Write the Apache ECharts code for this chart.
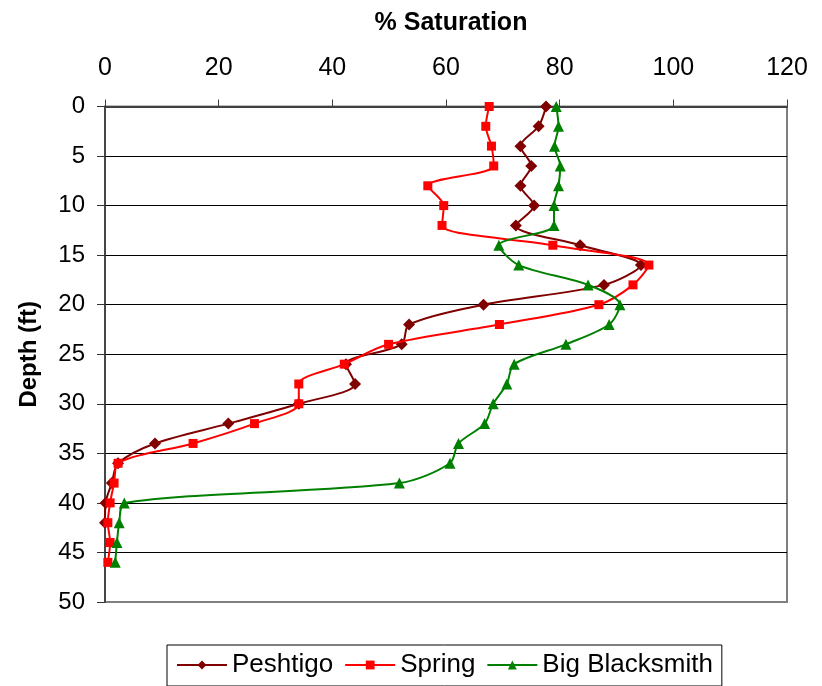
<!DOCTYPE html>
<html>
<head>
<meta charset="utf-8">
<script src="https://cdn.jsdelivr.net/npm/echarts@6/dist/echarts.min.js"></script>
<style>
html,body{margin:0;padding:0;background:#fff;}
#chart{width:822px;height:686px;}
</style>
</head>
<body>
<div id="chart"></div>
<script>
// Depths (ft)
const peshtigoDepth = [0,2,4,6,8,10,12,14,16,18,20,22,24,26,28,30,32,34,36,38,40,42];
const peshtigoSat   = [77.6,76.3,73.1,75.0,73.1,75.5,72.3,83.6,94.3,87.8,66.6,53.5,52.2,42.4,44.0,34.1,21.7,8.8,2.3,1.2,0.1,0];

const springDepth = [0,2,4,6,8,10,12,14,16,18,20,22,24,26,28,30,32,34,36,38,40,42,44,46];
const springSat   = [67.6,67.0,68.0,68.4,56.8,59.6,59.3,78.8,95.7,92.9,86.9,69.4,49.9,42.1,34.1,34.1,26.3,15.5,2.3,1.6,0.9,0.5,0.9,0.5];

const blacksmithDepth = [0,2,4,6,8,10,12,14,16,18,20,22,24,26,28,30,32,34,36,38,40,42,44,46];
const blacksmithSat   = [79.4,79.8,79.1,80.1,79.8,79.0,79.0,69.3,72.8,85.0,90.6,88.7,81.1,72.0,70.7,68.3,66.8,62.2,60.7,51.8,3.4,2.5,2.1,1.8];

const xTicks = [0,20,40,60,80,100,120];
const yTicks = [0,5,10,15,20,25,30,35,40,45,50];

function pairs(xs, ys){ return xs.map((x,i)=>[x, ys[i]]); }

const FONT = "'Liberation Sans', Arial, sans-serif";
const chart = echarts.init(document.getElementById('chart'), null, {renderer:'canvas'});

const splitColors = yTicks.map((t,i)=> i===0 ? '#404040' : (i===yTicks.length-1 ? '#808080' : '#000'));

chart.setOption({
  animation:false,
  backgroundColor:'#fff',
  title:{
    text:'% Saturation',
    left:446, top:6, textAlign:'center',
    textStyle:{fontFamily:FONT, fontSize:25, fontWeight:'bold', color:'#000'}
  },
  grid:{
    left:105, top:106.5, right:35, bottom:84,
    show:true, borderColor:'#808080', borderWidth:2, backgroundColor:'transparent'
  },
  legend:{
    left:167, top:645,
    padding:[7,9,8,9],
    borderColor:'#000', borderWidth:1,
    itemWidth:50, itemHeight:11, itemGap:11,
    textStyle:{fontFamily:FONT, fontSize:26, color:'#000'},
    data:['Peshtigo','Spring','Big Blacksmith']
  },
  xAxis:{
    type:'value', position:'top', min:0, max:120, interval:20,
    axisLine:{show:true, lineStyle:{color:'#404040', width:2}},
    axisTick:{show:true, inside:false, length:7, lineStyle:{color:'#404040', width:1}},
    axisLabel:{fontFamily:FONT, fontSize:25, color:'#000', margin:26,
      formatter:(v)=> xTicks.includes(v) ? String(v) : ''},
    splitLine:{show:false}
  },
  yAxis:{
    type:'value', inverse:true, min:0, max:50, interval:5,
    name:'Depth (ft)', nameLocation:'middle', nameGap:64, nameRotate:90,
    nameTextStyle:{fontFamily:FONT, fontSize:24, fontWeight:'bold', color:'#000'},
    axisLine:{show:true, onZero:false, lineStyle:{color:'#333', width:1.5}},
    axisTick:{show:true, inside:false, length:8, lineStyle:{color:'#333', width:1}},
    axisLabel:{fontFamily:FONT, fontSize:24, color:'#000', margin:20,
      formatter:(v)=> yTicks.includes(v) ? String(v) : ''},
    splitLine:{show:true, lineStyle:{color:splitColors, width:1}}
  },
  series:[
    {
      name:'Peshtigo', type:'line', smooth:0.3,
      data:pairs(peshtigoSat, peshtigoDepth),
      symbol:'diamond', symbolSize:12,
      lineStyle:{color:'#800000', width:2},
      itemStyle:{color:'#800000'},
      z:3
    },
    {
      name:'Spring', type:'line', smooth:0.3,
      data:pairs(springSat, springDepth),
      symbol:'rect', symbolSize:9,
      lineStyle:{color:'#FF0000', width:2},
      itemStyle:{color:'#FF0000'},
      z:4
    },
    {
      name:'Big Blacksmith', type:'line', smooth:0.3,
      data:pairs(blacksmithSat, blacksmithDepth),
      symbol:'triangle', symbolSize:11,
      lineStyle:{color:'#008000', width:2},
      itemStyle:{color:'#008000'},
      z:5
    }
  ]
});
</script>
</body>
</html>
